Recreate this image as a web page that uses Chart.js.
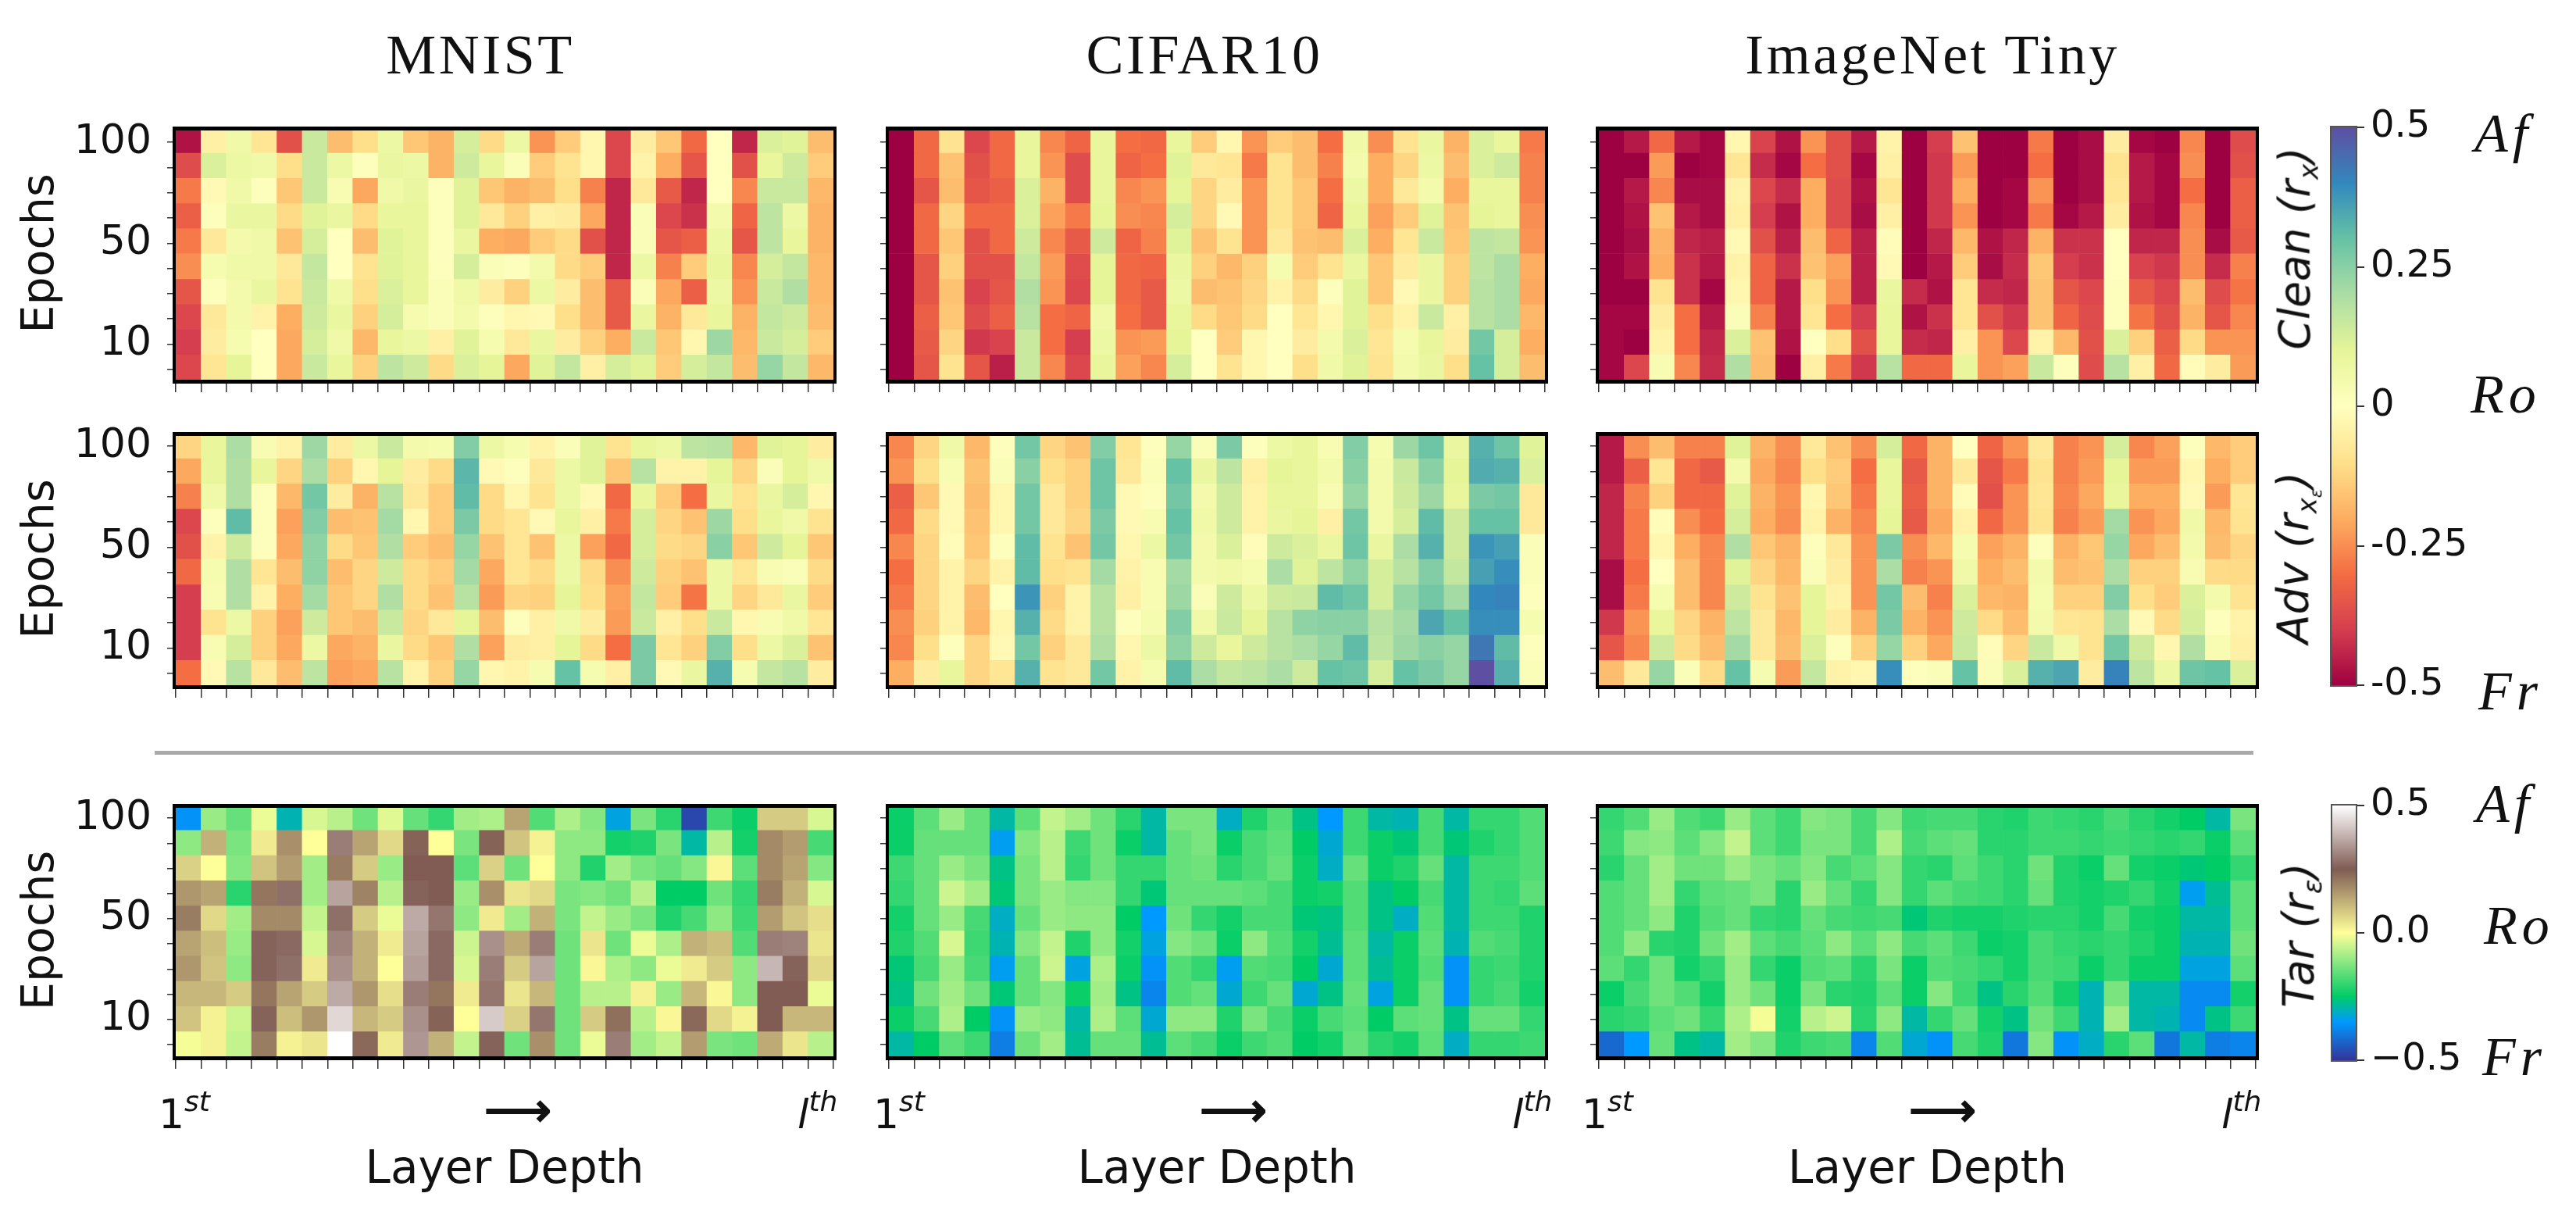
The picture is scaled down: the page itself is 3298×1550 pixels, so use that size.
<!DOCTYPE html>
<html lang="en">
<head>
<meta charset="UTF-8">
<title>Layer robustness heatmaps</title>
<script src="https://cdn.jsdelivr.net/npm/chart.js"></script>
<style>
    html, body { margin: 0; padding: 0; background: #fff; }
    #stage { position: relative; width: 3298px; height: 1550px; overflow: hidden; }
    #stage canvas { position: absolute; }
    .txt { position: absolute; white-space: nowrap; line-height: 1; color: #111; font-family: "DejaVu Sans", sans-serif; }
    .serif { font-family: "Liberation Serif", serif; }
    .tag { font-family: "Liberation Serif", serif; font-style: italic; font-size: 70px; letter-spacing: 6px; }
</style>
</head>
<body>
<div id="stage"></div>
<script>
// tick labels and categories
const layers = Array.from({ length: 26 }, (_, i) => 'L' + (i + 1));
const epochLabels = ['100', '', '', '', '50', '', '', '', '10', ''];
const datasetNames = ['MNIST', 'CIFAR10', 'ImageNet Tiny'];
const cbTicksTop = [-0.5, -0.25, 0, 0.25, 0.5];
const cbLabelsTop = ['-0.5', '-0.25', '0', '0.25', '0.5'];
const cbTicksBottom = [-0.5, 0, 0.5];
const cbLabelsBottom = ['\u22120.5', '0.0', '0.5'];

// cell values in hundredths, top row is epoch 100
const mnistClean = [
[-47,-5,6,-8,-36,15,-17,-10,7,-15,-19,13,-11,7,-24,-14,-3,-38,-6,-15,-31,0,-44,12,11,-17],
[-37,12,7,6,-10,15,7,1,8,7,-19,14,9,2,-14,-9,-3,-38,-4,-20,-35,0,-36,9,14,-14],
[-28,-2,6,1,-15,15,3,-21,6,8,1,11,-15,-19,-17,-10,-27,-44,-7,-34,-44,0,-26,15,15,-18],
[-33,1,8,8,-11,11,8,-11,9,9,1,11,-7,-13,-5,-6,-21,-44,2,-38,-42,5,-32,17,7,-19],
[-28,-7,5,6,-16,13,0,-17,11,9,1,8,-20,-21,-14,-11,-36,-44,2,-35,-33,7,-35,17,9,-19],
[-25,4,6,6,-7,16,0,-9,11,9,1,13,2,1,5,-11,-14,-44,7,-27,-14,9,-26,13,16,-18],
[-35,1,5,8,-9,15,6,-10,12,9,2,6,-6,-13,7,-6,-17,-34,2,-21,-33,7,-24,15,19,-18],
[-38,-7,5,-4,-20,14,8,-13,13,4,2,5,1,-3,-2,-10,-17,-34,8,-19,-7,9,-19,16,14,-17],
[-40,-6,4,0,-21,13,6,-18,9,7,-5,11,4,-7,8,-6,-13,-20,15,-15,-3,22,-18,15,13,-14],
[-38,-8,10,0,-21,15,9,-13,17,14,-11,12,10,-21,11,16,-5,13,11,-14,13,16,-17,23,16,-18]];
const cifarClean = [
[-50,-31,-9,-38,-31,9,-26,-32,9,-30,-31,9,-14,-3,-24,-14,-17,-30,6,-25,-9,8,-19,12,9,-28],
[-50,-31,-16,-36,-31,9,-24,-37,9,-32,-30,11,-7,-8,-28,-9,-17,-27,5,-20,-12,7,-17,12,14,-27],
[-50,-35,-17,-35,-33,12,-19,-37,9,-26,-24,10,-12,-6,-24,-9,-15,-30,7,-20,-7,5,-20,9,9,-27],
[-50,-31,-12,-31,-31,12,-22,-28,10,-25,-26,13,-12,-2,-24,-9,-15,-32,9,-22,-14,11,-16,10,9,-25],
[-50,-31,-15,-36,-31,14,-26,-34,14,-32,-27,11,-16,-9,-24,-7,-16,-17,12,-20,-8,15,-15,17,16,-24],
[-50,-35,-13,-36,-36,16,-23,-37,10,-31,-32,8,-13,-18,-13,4,-14,-9,8,-15,-6,8,-13,17,20,-20],
[-50,-35,-16,-39,-35,19,-24,-38,10,-31,-34,7,-17,-16,-12,-4,-11,1,11,-15,-2,8,-13,18,20,-21],
[-50,-33,-15,-37,-33,18,-30,-32,6,-30,-34,9,-11,-15,-11,0,-8,-3,11,-10,-4,15,-5,18,20,-18],
[-50,-34,-12,-41,-39,15,-30,-40,7,-24,-23,10,0,-14,-3,0,-6,5,12,-8,4,9,-6,28,13,-20],
[-50,-35,-9,-35,-45,15,-26,-38,9,-22,-26,13,0,-9,-3,0,-10,6,11,-9,5,8,-10,30,13,-17]];
const tinyClean = [
[-50,-46,-31,-46,-49,-3,-39,-47,-24,-36,-46,-4,-50,-40,-16,-50,-50,-28,-50,-48,-6,-49,-50,-26,-50,-37],
[-50,-50,-23,-50,-49,-8,-43,-49,-30,-36,-49,-5,-50,-41,-23,-50,-50,-30,-50,-48,-9,-46,-49,-25,-50,-36],
[-50,-46,-26,-48,-48,-4,-38,-43,-20,-37,-47,-8,-50,-41,-20,-50,-49,-24,-50,-48,-8,-46,-49,-30,-50,-33],
[-50,-47,-16,-46,-48,-5,-40,-47,-20,-37,-48,-5,-50,-41,-24,-50,-49,-28,-49,-46,-6,-47,-49,-26,-50,-33],
[-50,-48,-19,-44,-45,-2,-36,-45,-17,-32,-45,-1,-50,-44,-18,-47,-44,-19,-42,-42,0,-44,-44,-25,-48,-34],
[-50,-47,-20,-42,-46,-4,-32,-42,-16,-22,-45,-2,-50,-46,-14,-48,-43,-15,-40,-42,0,-39,-41,-25,-43,-27],
[-50,-50,-9,-42,-49,-3,-32,-46,-10,-24,-45,8,-43,-47,-8,-43,-44,-16,-35,-38,1,-34,-38,-17,-37,-29],
[-49,-49,-6,-30,-46,2,-27,-46,-8,-30,-40,9,-47,-42,-8,-36,-41,-16,-32,-37,1,-29,-36,-19,-35,-26],
[-49,-50,-4,-30,-44,12,-16,-47,0,-10,-36,9,-43,-44,-5,-24,-38,-4,-18,-36,12,-13,-33,-11,-24,-24],
[-49,-38,3,-26,-43,19,-17,-50,-5,-28,-41,18,-31,-31,9,-24,-22,15,1,-37,18,-5,-31,-1,-6,-23]];
const mnistAdv = [
[-12,9,20,3,-4,22,-6,7,15,5,4,26,7,4,-4,2,11,-9,9,7,17,18,-18,11,10,-6],
[-21,9,19,9,-12,20,-13,-3,10,-6,-11,32,-2,1,-7,7,11,-15,18,-4,-4,10,-12,2,10,6],
[-27,6,19,1,-18,28,-6,-19,18,-7,-14,31,-11,-3,-9,7,-2,-31,9,-14,-30,8,-9,8,13,-3],
[-38,1,31,1,-22,26,-17,-16,21,-3,-14,27,-11,-8,-2,9,-5,-28,13,-12,-16,22,-10,9,6,-9],
[-36,-4,14,1,-21,24,-11,-15,19,-14,-17,23,-16,-8,-16,7,-22,-31,13,-11,-12,25,-15,14,10,-15],
[-31,4,19,-8,-17,24,-17,-12,14,-11,-14,21,-21,-8,-11,7,-11,-25,14,-13,-16,7,-8,3,2,-11],
[-40,3,19,-4,-20,21,-15,-12,19,-11,-16,18,-23,-12,-13,10,-10,-22,16,-14,-29,7,-12,-7,8,-14],
[-40,-9,7,-13,-22,14,-15,-17,15,-12,-7,10,-17,1,-5,6,-6,-23,15,-5,-10,15,-3,3,6,-8],
[-40,3,13,-13,-21,7,-21,-19,8,-11,-15,19,-22,-6,-5,10,-11,-30,27,-8,-13,26,-10,7,12,-16],
[-30,-2,18,-7,-17,17,-22,-21,18,-4,-13,23,-3,-4,4,30,4,-5,27,-2,8,33,4,16,18,-6]];
const cifarAdv = [
[-26,-12,6,-18,1,28,-12,-16,26,-8,1,23,2,27,1,7,9,3,26,4,22,29,8,33,29,11],
[-24,-10,3,-16,2,25,-10,-13,29,-7,2,30,8,17,-5,10,9,5,25,5,15,25,10,34,33,12],
[-33,-15,-2,-17,-3,28,-7,-13,29,-2,1,28,5,14,-4,9,9,3,23,5,14,22,9,27,28,-7],
[-31,-11,-2,-16,-3,28,-7,-12,27,-2,3,30,6,14,-4,8,10,-5,28,5,13,31,14,30,30,-7],
[-26,-12,-1,-15,1,31,-9,-16,28,-3,7,28,5,12,-1,14,12,8,29,8,20,33,14,38,36,2],
[-30,-12,-4,-12,-4,31,-10,-9,21,-4,3,21,5,6,4,20,11,17,24,13,18,26,16,36,39,2],
[-28,-12,-4,-17,0,38,-13,-4,18,-5,3,22,2,14,7,14,15,31,29,13,23,28,21,40,41,1],
[-25,-13,-4,-18,-3,33,-11,-4,18,1,4,26,6,15,10,18,24,25,25,18,21,35,30,39,39,4],
[-26,-10,1,-12,-2,28,-13,-7,19,-3,7,24,14,9,14,18,20,23,31,17,22,25,23,43,31,1],
[-20,-6,9,-12,-8,33,-9,-7,28,-4,4,31,20,16,17,20,14,30,29,13,30,27,23,50,33,2]];
const tinyAdv = [
[-46,-25,-17,-27,-27,11,-19,-25,-7,-16,-25,13,-31,-19,0,-32,-24,-7,-27,-24,13,-26,-22,1,-18,-14],
[-46,-33,-8,-31,-34,5,-21,-26,-10,-14,-30,9,-34,-19,-7,-35,-28,-9,-27,-23,10,-23,-23,-3,-20,-14],
[-44,-27,-13,-31,-31,11,-19,-24,-3,-15,-28,9,-33,-19,-1,-36,-24,-8,-26,-21,9,-20,-20,-2,-23,-8],
[-44,-28,-1,-25,-30,13,-20,-25,-4,-19,-26,10,-34,-21,-4,-31,-24,-9,-27,-23,21,-24,-21,6,-18,-9],
[-44,-28,-3,-20,-26,19,-15,-19,1,-7,-24,27,-25,-18,4,-22,-19,1,-19,-15,23,-21,-17,5,-17,-12],
[-48,-30,0,-17,-26,11,-12,-18,2,-6,-24,20,-27,-24,6,-20,-17,5,-17,-16,20,-13,-13,3,-11,-11],
[-48,-28,4,-17,-26,14,-9,-16,10,-4,-24,28,-17,-27,12,-18,-19,4,-13,-13,26,-10,-14,12,5,-9],
[-41,-24,9,-12,-19,17,-7,-18,10,-6,-19,27,-19,-24,14,-11,-17,5,-8,-9,20,-2,-11,13,1,-4],
[-35,-26,14,-11,-17,21,-7,-17,12,1,-13,23,-13,-21,15,-1,-12,15,6,-9,28,14,-3,19,3,-5],
[-17,-7,23,2,-11,30,4,-23,16,-4,-3,39,1,2,30,2,12,33,35,-6,41,17,7,29,30,12]];
const mnistTar = [
[-36,-10,-15,-2,-30,-4,-7,-14,-3,-15,-20,-9,-8,14,-17,-8,-12,-33,-13,-21,-47,-19,-24,8,8,-4],
[-11,12,-13,3,17,0,30,14,6,24,0,-13,24,9,2,-11,-11,-23,-22,-13,-29,-7,-23,18,15,-18],
[7,0,-12,9,15,-9,20,8,-10,25,25,-16,7,-14,0,-11,-22,-9,-13,-15,-12,1,-16,18,14,-12],
[16,14,-21,21,28,-9,36,19,-7,26,25,-10,17,4,6,-13,-12,-14,-7,-25,-25,-14,-20,20,12,-4],
[20,6,-9,18,18,-6,28,8,-2,37,29,-11,3,-9,12,-13,-6,-10,-13,-22,-18,-11,-19,15,9,5],
[14,10,-10,26,27,-4,31,12,3,36,27,-5,33,13,30,-14,4,-14,-2,-8,12,10,-17,30,31,4],
[16,9,-11,26,28,3,33,12,0,35,27,-4,30,8,36,-14,1,-8,-11,-2,3,8,-11,39,26,6],
[11,11,8,21,14,8,37,16,5,30,21,3,29,4,11,-14,-7,-7,2,-10,11,1,-11,25,25,-2],
[9,2,-5,26,10,16,44,11,8,33,24,0,42,7,29,-14,8,22,-7,1,23,6,2,25,11,11],
[-1,2,-6,20,2,4,50,23,3,34,12,-6,26,-14,17,-14,-2,30,-9,-6,15,-13,-14,13,4,-7]];
const cifarTar = [
[-24,-16,-10,-15,-29,-16,-6,-9,-14,-21,-29,-13,-13,-31,-22,-17,-27,-35,-19,-29,-30,-18,-29,-20,-20,-17],
[-24,-15,-15,-15,-34,-12,-7,-19,-14,-24,-29,-15,-13,-24,-18,-16,-25,-32,-19,-24,-26,-18,-26,-22,-20,-17],
[-19,-15,-10,-13,-27,-13,-7,-20,-14,-20,-20,-15,-14,-21,-18,-15,-24,-31,-15,-24,-22,-15,-29,-19,-19,-17],
[-20,-15,-5,-9,-26,-13,-10,-12,-12,-20,-26,-15,-15,-15,-16,-18,-24,-23,-17,-27,-25,-18,-29,-19,-20,-16],
[-23,-15,-10,-18,-31,-15,-10,-11,-11,-25,-35,-14,-20,-23,-18,-18,-26,-27,-17,-27,-31,-17,-29,-19,-19,-22],
[-22,-17,-4,-19,-30,-12,-6,-22,-11,-23,-33,-12,-14,-24,-11,-17,-23,-28,-16,-29,-24,-16,-30,-17,-18,-22],
[-26,-18,-10,-18,-34,-15,-5,-33,-8,-24,-36,-17,-20,-34,-17,-18,-25,-32,-16,-28,-24,-17,-36,-20,-19,-22],
[-27,-14,-9,-14,-26,-15,-12,-24,-9,-27,-38,-17,-15,-32,-19,-15,-32,-27,-15,-33,-24,-15,-36,-20,-18,-23],
[-24,-18,-8,-25,-36,-10,-11,-29,-8,-16,-32,-11,-11,-22,-13,-18,-24,-18,-16,-25,-16,-15,-27,-15,-15,-20],
[-29,-25,-16,-19,-39,-14,-9,-28,-15,-15,-28,-16,-18,-24,-19,-17,-25,-23,-15,-21,-23,-16,-31,-20,-20,-19]];
const tinyTar = [
[-20,-17,-10,-17,-19,-10,-16,-19,-12,-13,-18,-12,-19,-18,-18,-21,-22,-19,-20,-21,-18,-21,-23,-25,-29,-13],
[-19,-12,-11,-16,-12,-6,-16,-19,-13,-13,-18,-8,-18,-16,-15,-21,-21,-19,-19,-20,-19,-20,-21,-20,-24,-16],
[-21,-15,-9,-14,-14,-10,-13,-15,-12,-18,-16,-12,-20,-21,-16,-19,-21,-14,-22,-24,-15,-23,-24,-26,-25,-20],
[-17,-15,-9,-20,-16,-15,-13,-21,-10,-15,-20,-12,-20,-16,-18,-19,-21,-15,-22,-23,-22,-20,-23,-34,-28,-16],
[-17,-15,-11,-22,-17,-15,-20,-21,-15,-18,-19,-18,-26,-22,-23,-23,-22,-21,-21,-23,-18,-23,-24,-29,-29,-16],
[-17,-11,-21,-22,-14,-9,-16,-18,-16,-11,-16,-11,-18,-16,-19,-24,-23,-18,-20,-21,-20,-22,-24,-30,-30,-14],
[-16,-20,-14,-23,-20,-10,-20,-24,-17,-16,-21,-13,-24,-17,-18,-20,-23,-18,-19,-24,-20,-24,-24,-33,-33,-16],
[-24,-18,-14,-17,-23,-10,-14,-24,-13,-21,-22,-16,-24,-12,-19,-27,-21,-17,-23,-30,-13,-29,-29,-37,-37,-23],
[-21,-20,-16,-14,-20,-8,-1,-23,-7,-5,-21,-11,-29,-20,-15,-23,-27,-14,-19,-30,-9,-29,-30,-37,-27,-19],
[-42,-35,-15,-27,-29,-9,-12,-22,-19,-18,-38,-17,-32,-36,-18,-22,-40,-12,-36,-31,-21,-16,-40,-29,-39,-38]];

// colormaps, evenly spaced stops for Spectral and fixed positions for terrain
const spectral = ['#9e0142','#d53e4f','#f46d43','#fdae61','#fee08b','#ffffbf','#e6f598','#abdda4','#66c2a5','#3288bd','#5e4fa2']
    .map((c, i) => [i / 10, c]);
const terrain = [[0, '#333399'], [0.15, '#0099ff'], [0.25, '#00cc66'], [0.5, '#ffff99'], [0.75, '#805c54'], [1, '#ffffff']];

function hexRgb(h) {
    return [1, 3, 5].map(i => parseInt(h.substr(i, 2), 16));
}
// t goes 0..1
function colorAt(map, t) {
    let i = 0;
    while (i < map.length - 2 && t > map[i + 1][0]) i++;
    const f = Math.min(1, Math.max(0, (t - map[i][0]) / (map[i + 1][0] - map[i][0])));
    const a = hexRgb(map[i][1]), b = hexRgb(map[i + 1][1]);
    return `rgb(${a.map((v, k) => Math.round(v + (b[k] - v) * f)).join(',')})`;
}

const stage = document.getElementById('stage');
const FONT = '"DejaVu Sans", sans-serif';
const TICK = '#333';

function addCanvas(left, top, w, h) {
    const c = document.createElement('canvas');
    c.width = w; c.height = h;
    c.style.left = left + 'px'; c.style.top = top + 'px';
    stage.appendChild(c);
    return c;
}

function addText(html, x, y, css, cls) {
    const d = document.createElement('div');
    d.className = 'txt ' + (cls || '');
    d.innerHTML = html;
    d.style.cssText = `left:${x}px;top:${y}px;` + (css || '');
    stage.appendChild(d);
}

// frame round the plot, the top band covers a bit of the first row like the original
const frame = {
    id: 'frame',
    afterDraw(chart, args, opts) {
        const { left, right, top, bottom } = chart.chartArea, g = chart.ctx;
        g.save();
        g.fillStyle = opts.color;
        g.fillRect(left - opts.side, top - opts.edge + opts.inset, right - left + 2 * opts.side, opts.edge);
        g.fillRect(left - opts.side, bottom, right - left + 2 * opts.side, opts.edge);
        g.fillRect(left - opts.side, top, opts.side, bottom - top);
        g.fillRect(right, top, opts.side, bottom - top);
        g.restore();
    }
};

// one heatmap panel: floating bars, one dataset per epoch row
function heatmap(rows, map, box, labelled, lastRow, nudge) {
    const leftSpace = labelled ? 220 : 40;
    const bottomSpace = lastRow ? 182 : 40;
    const pad = 10;
    const canvas = addCanvas(box.x0 - leftSpace, box.y0 - pad, box.x1 - box.x0 + leftSpace + pad, box.y1 - box.y0 + pad + bottomSpace);
    new Chart(canvas, {
        type: 'bar',
        plugins: [frame],
        data: {
            labels: layers,
            datasets: rows.map((row, r) => ({
                data: row.map((v, c) => ({ x: layers[c], y: [r - 0.5, r + 0.5] })),
                backgroundColor: row.map(v => colorAt(map, v / 100 + 0.5)),
                borderWidth: 0,
                barPercentage: 1,
                categoryPercentage: 1,
                grouped: false
            }))
        },
        options: {
            responsive: false,
            animation: false,
            layout: { autoPadding: false, padding: { top: pad, right: pad } },
            plugins: {
                legend: { display: false },
                tooltip: { enabled: false },
                frame: { color: '#000', side: 4, edge: 5, inset: 4 }
            },
            scales: {
                x: {
                    grid: { drawOnChartArea: false, tickLength: 16, color: TICK, lineWidth: 1.5 },
                    border: { display: false },
                    ticks: { autoSkip: false, maxRotation: 0, padding: 0, callback: () => '' },
                    title: {
                        display: lastRow, text: 'Layer Depth', color: '#111',
                        font: { family: FONT, size: 58 }, padding: 0
                    },
                    afterFit: s => { s.height = bottomSpace; s.paddingLeft = 0; s.paddingRight = 0; }
                },
                y: {
                    reverse: true, min: -0.5, max: 9.5,
                    grid: { drawOnChartArea: false, tickLength: 11, color: TICK, lineWidth: 1.5 },
                    border: { display: false },
                    // ticks sit slightly below the cell centres in the original
                    afterBuildTicks: s => { s.ticks = epochLabels.map((_, i) => ({ value: i + nudge })); },
                    ticks: {
                        autoSkip: false, padding: 20, color: '#111',
                        font: { family: FONT, size: 52 },
                        callback: (v, i) => labelled ? epochLabels[i] : ''
                    },
                    title: {
                        display: labelled, text: 'Epochs', color: '#111',
                        font: { family: FONT, size: 57 }, padding: { top: 14, bottom: 0 }
                    },
                    afterFit: s => { s.width = leftSpace; s.paddingTop = 0; s.paddingBottom = 0; }
                }
            }
        }
    });
}

// colour bar: one floating bar filled with the colormap as a gradient
function colorbar(map, box, tickValues, tickLabels) {
    const pad = 32;
    const canvas = addCanvas(box.x0 - 10, box.y0 - pad, 210, box.y1 - box.y0 + 2 * pad);
    new Chart(canvas, {
        type: 'bar',
        plugins: [frame],
        data: {
            labels: ['scale'],
            datasets: [{
                data: [[-0.5, 0.5]],
                barPercentage: 1,
                categoryPercentage: 1,
                borderWidth: 0,
                backgroundColor: ctx => {
                    const area = ctx.chart.chartArea;
                    if (!area || !Number.isFinite(area.top)) return '#888';
                    const g = ctx.chart.ctx.createLinearGradient(0, area.bottom, 0, area.top);
                    const steps = 40;
                    for (let i = 0; i <= steps; i++) g.addColorStop(i / steps, colorAt(map, i / steps));
                    return g;
                }
            }]
        },
        options: {
            responsive: false,
            animation: false,
            layout: { autoPadding: false, padding: { top: pad, bottom: pad, left: 10 } },
            plugins: {
                legend: { display: false },
                tooltip: { enabled: false },
                frame: { color: '#555', side: 2, edge: 2, inset: 0 }
            },
            scales: {
                x: { display: false },
                y: {
                    position: 'right', min: -0.5, max: 0.5,
                    grid: { drawOnChartArea: false, tickLength: 11, color: TICK, lineWidth: 2 },
                    border: { display: false },
                    afterBuildTicks: s => { s.ticks = tickValues.map(value => ({ value })); },
                    ticks: {
                        autoSkip: false, padding: 8, color: '#111',
                        font: { family: FONT, size: 48 },
                        callback: v => tickLabels[tickValues.indexOf(v)]
                    },
                    afterFit: s => { s.width = 210 - 10 - (box.x1 - box.x0); s.paddingTop = 0; s.paddingBottom = 0; }
                }
            }
        }
    });
}

// panel layout (plot edges, cells reach under the frame at the top)
const columnsX = [[225, 1067], [1138, 1978], [2047, 2888]];
const rowsY = [[163, 486], [554, 877], [1030, 1352]];
const tickNudge = [0.09, 0.03, 0.03];
const panelData = [
    [mnistClean, cifarClean, tinyClean],
    [mnistAdv, cifarAdv, tinyAdv],
    [mnistTar, cifarTar, tinyTar]
];

panelData.forEach((row, r) => row.forEach((values, c) => {
    const box = { x0: columnsX[c][0], x1: columnsX[c][1], y0: rowsY[r][0], y1: rowsY[r][1] };
    heatmap(values, r === 2 ? terrain : spectral, box, c === 0, r === 2, tickNudge[r]);
}));

colorbar(spectral, { x0: 2985, x1: 3016, y0: 163, y1: 877 }, cbTicksTop, cbLabelsTop);
colorbar(terrain, { x0: 2986, x1: 3016, y0: 1031, y1: 1357 }, cbTicksBottom, cbLabelsBottom);

// column titles
const titleX = [615, 1542, 2474];
datasetNames.forEach((name, i) => {
    addText(name, titleX[i], 34, 'font-size:72px;letter-spacing:3.5px;transform:translateX(-50%);', 'serif');
});

// separator between the two groups
const rule = document.createElement('div');
rule.style.cssText = 'position:absolute;left:198px;top:961px;width:2687px;height:5px;background:#aaa;';
stage.appendChild(rule);

// 1st ... lth markers under the bottom row
const firstX = [203, 1118, 2025];
const lastX = [1021, 1936, 2844];
const arrowX = [663, 1579, 2487];
firstX.forEach((x, i) => {
    addText('1<i style="font-size:36px;position:relative;top:-22px;">st</i>', x, 1400, 'font-size:52px;');
    addText('<i>l</i><i style="font-size:36px;position:relative;top:-22px;">th</i>', lastX[i], 1400, 'font-size:52px;');
    addText('\u27F6', arrowX[i], 1390, 'font-size:60px;-webkit-text-stroke:2px #111;transform:translateX(-50%);');
});

// rotated side labels
const side = 'font-size:55px;font-style:italic;transform:translate(-50%,-50%) rotate(-90deg);';
const subCss = 'font-size:34px;position:relative;top:11px;';
addText(`Clean (r<span style="${subCss}">x</span>)`, 2938, 318, side);
addText(`Adv (r<span style="${subCss}">x<span style="font-size:22px;position:relative;top:7px;">\u03B5</span></span>)`, 2936, 714, side);
addText(`Tar (r<span style="${subCss}">\u03B5</span>)`, 2943, 1197, side);

// Af / Ro / Fr tags next to the colour bars
addText('Af', 3168, 136, '', 'tag');
addText('Ro', 3163, 470, '', 'tag');
addText('Fr', 3173, 850, '', 'tag');
addText('Af', 3170, 994, '', 'tag');
addText('Ro', 3180, 1150, '', 'tag');
addText('Fr', 3178, 1318, '', 'tag');
</script>
</body>
</html>
